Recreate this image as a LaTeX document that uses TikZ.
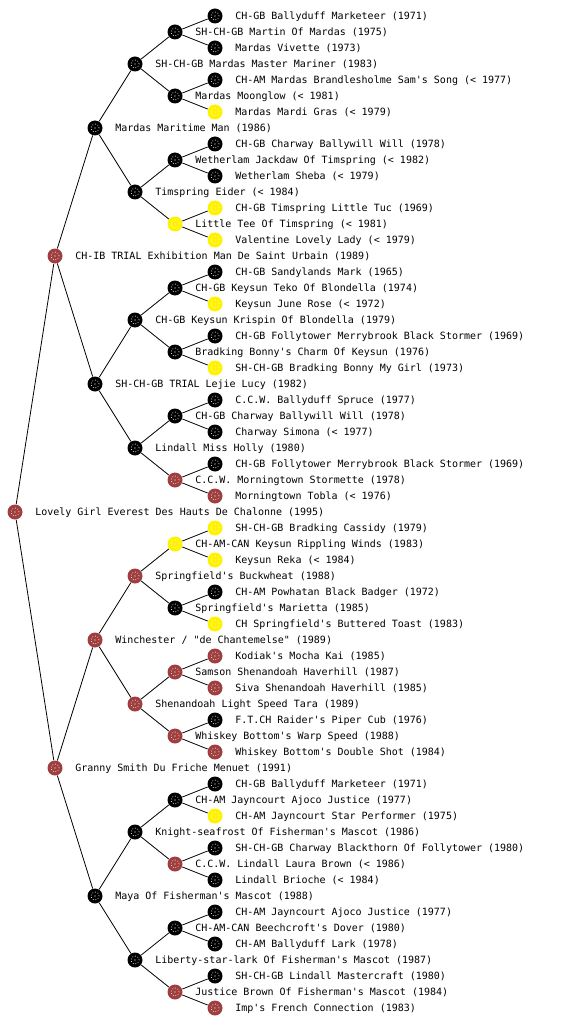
\documentclass[tikz,border=0pt]{standalone}
\usepackage{fontspec}
\newfontfamily\pedfont{DejaVu Sans Mono}
\usetikzlibrary{positioning}
\definecolor{kred}{RGB}{158,62,62}

\begin{document}
\begin{tikzpicture}[x=1pt,y=1pt,line width=0.8pt,
  dog/.style={circle,minimum size=15pt,inner sep=0pt,
    path picture={\draw[white,dotted,line width=0.7pt] (path picture bounding box.center) circle (4pt);
                  \fill[white] (path picture bounding box.center) circle (0.7pt);}},
  lbl/.style={font=\pedfont\fontsize{10}{12}\selectfont,inner sep=0pt,
    text height=7.3pt,text depth=0pt}]
  % Parameters
  \def\dx{40}   % horizontal step per generation
  \def\dy{16}   % vertical step per row

  \useasboundingbox (0,0) rectangle (560,-1024);

  % Dogs: row / generation / colour / name
  \foreach \i/\lev/\c/\t in {
    1/5/black/{CH-GB Ballyduff Marketeer (1971)},
    2/4/black/{SH-CH-GB Martin Of Mardas (1975)},
    3/5/black/{Mardas Vivette (1973)},
    4/3/black/{SH-CH-GB Mardas Master Mariner (1983)},
    5/5/black/{CH-AM Mardas Brandlesholme Sam's Song (< 1977)},
    6/4/black/{Mardas Moonglow (< 1981)},
    7/5/yellow/{Mardas Mardi Gras (< 1979)},
    8/2/black/{Mardas Maritime Man (1986)},
    9/5/black/{CH-GB Charway Ballywill Will (1978)},
    10/4/black/{Wetherlam Jackdaw Of Timspring (< 1982)},
    11/5/black/{Wetherlam Sheba (< 1979)},
    12/3/black/{Timspring Eider (< 1984)},
    13/5/yellow/{CH-GB Timspring Little Tuc (1969)},
    14/4/yellow/{Little Tee Of Timspring (< 1981)},
    15/5/yellow/{Valentine Lovely Lady (< 1979)},
    16/1/kred/{CH-IB TRIAL Exhibition Man De Saint Urbain (1989)},
    17/5/black/{CH-GB Sandylands Mark (1965)},
    18/4/black/{CH-GB Keysun Teko Of Blondella (1974)},
    19/5/yellow/{Keysun June Rose (< 1972)},
    20/3/black/{CH-GB Keysun Krispin Of Blondella (1979)},
    21/5/black/{CH-GB Follytower Merrybrook Black Stormer (1969)},
    22/4/black/{Bradking Bonny's Charm Of Keysun (1976)},
    23/5/yellow/{SH-CH-GB Bradking Bonny My Girl (1973)},
    24/2/black/{SH-CH-GB TRIAL Lejie Lucy (1982)},
    25/5/black/{C.C.W. Ballyduff Spruce (1977)},
    26/4/black/{CH-GB Charway Ballywill Will (1978)},
    27/5/black/{Charway Simona (< 1977)},
    28/3/black/{Lindall Miss Holly (1980)},
    29/5/black/{CH-GB Follytower Merrybrook Black Stormer (1969)},
    30/4/kred/{C.C.W. Morningtown Stormette (1978)},
    31/5/kred/{Morningtown Tobla (< 1976)},
    32/0/kred/{Lovely Girl Everest Des Hauts De Chalonne (1995)},
    33/5/yellow/{SH-CH-GB Bradking Cassidy (1979)},
    34/4/yellow/{CH-AM-CAN Keysun Rippling Winds (1983)},
    35/5/yellow/{Keysun Reka (< 1984)},
    36/3/kred/{Springfield's Buckwheat (1988)},
    37/5/black/{CH-AM Powhatan Black Badger (1972)},
    38/4/black/{Springfield's Marietta (1985)},
    39/5/yellow/{CH Springfield's Buttered Toast (1983)},
    40/2/kred/{Winchester / "de Chantemelse" (1989)},
    41/5/kred/{Kodiak's Mocha Kai (1985)},
    42/4/kred/{Samson Shenandoah Haverhill (1987)},
    43/5/kred/{Siva Shenandoah Haverhill (1985)},
    44/3/kred/{Shenandoah Light Speed Tara (1989)},
    45/5/black/{F.T.CH Raider's Piper Cub (1976)},
    46/4/kred/{Whiskey Bottom's Warp Speed (1988)},
    47/5/kred/{Whiskey Bottom's Double Shot (1984)},
    48/1/kred/{Granny Smith Du Friche Menuet (1991)},
    49/5/black/{CH-GB Ballyduff Marketeer (1971)},
    50/4/black/{CH-AM Jayncourt Ajoco Justice (1977)},
    51/5/yellow/{CH-AM Jayncourt Star Performer (1975)},
    52/3/black/{Knight-seafrost Of Fisherman's Mascot (1986)},
    53/5/black/{SH-CH-GB Charway Blackthorn Of Follytower (1980)},
    54/4/kred/{C.C.W. Lindall Laura Brown (< 1986)},
    55/5/black/{Lindall Brioche (< 1984)},
    56/2/black/{Maya Of Fisherman's Mascot (1988)},
    57/5/black/{CH-AM Jayncourt Ajoco Justice (1977)},
    58/4/black/{CH-AM-CAN Beechcroft's Dover (1980)},
    59/5/black/{CH-AM Ballyduff Lark (1978)},
    60/3/black/{Liberty-star-lark Of Fisherman's Mascot (1987)},
    61/5/black/{SH-CH-GB Lindall Mastercraft (1980)},
    62/4/kred/{Justice Brown Of Fisherman's Mascot (1984)},
    63/5/kred/{Imp's French Connection (1983)}}
  {
    \node[dog,fill=\c] (n\i) at ({15+\dx*\lev},{-\dy*\i}) {};
    \node[lbl,right=12pt of n\i] (t\i) {\t};
  }

  % Parent -> sire and dam
  \foreach \i/\lev in {32/0,16/1,48/1,8/2,24/2,40/2,56/2,
      4/3,12/3,20/3,28/3,36/3,44/3,52/3,60/3,
      2/4,6/4,10/4,14/4,18/4,22/4,26/4,30/4,
      34/4,38/4,42/4,46/4,50/4,54/4,58/4,62/4}
  {
    \pgfmathtruncatemacro\off{2^(4-\lev)}
    \pgfmathtruncatemacro\lo{\i-\off}
    \pgfmathtruncatemacro\hi{\i+\off}
    \draw (n\i) -- (n\lo);
    \draw (n\i) -- (n\hi);
  }
\end{tikzpicture}
\end{document}
